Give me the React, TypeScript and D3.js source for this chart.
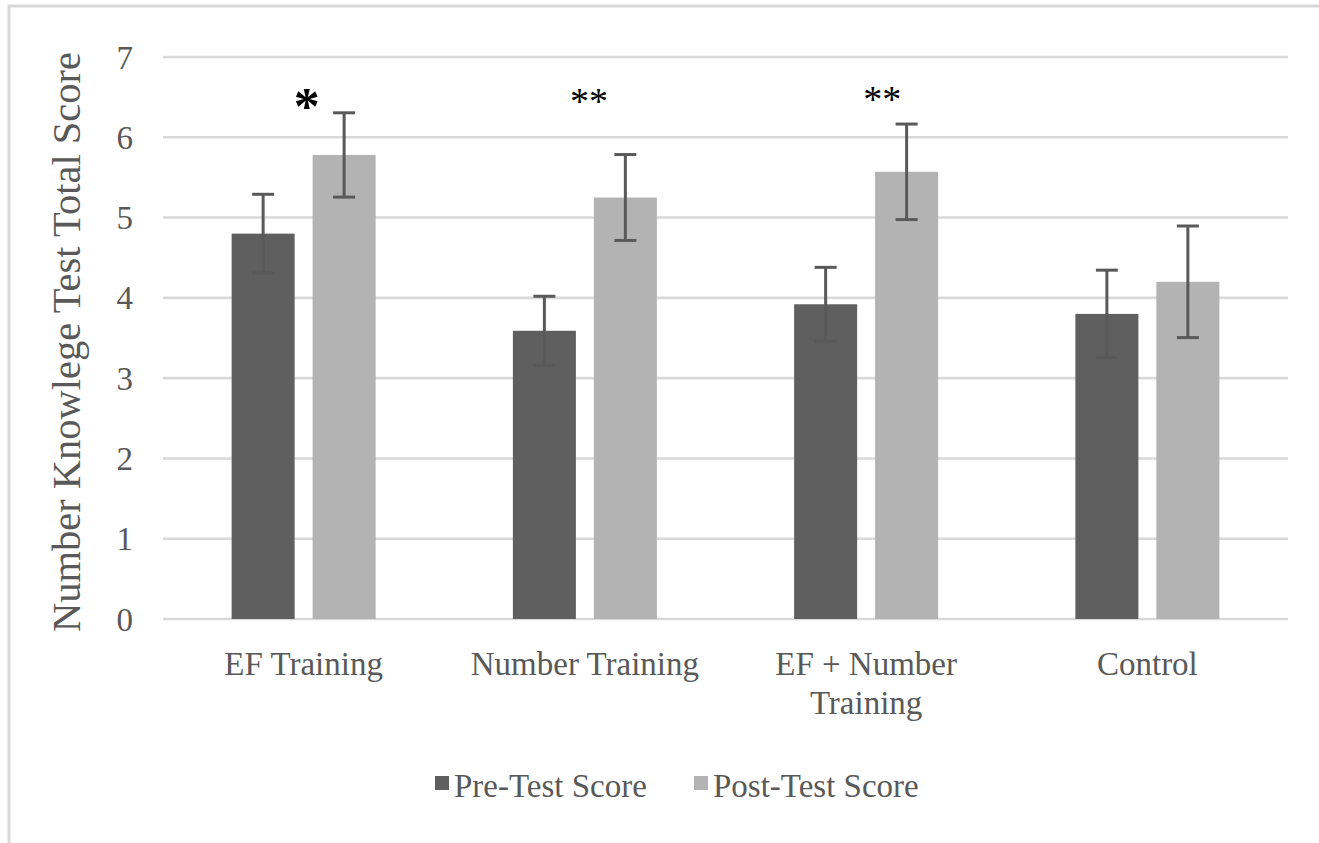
import React from "react";
import * as d3 from "d3";

const categories = ["EF Training", "Number Training", "EF + Number Training", "Control"];
const categoryLines = [["EF Training"], ["Number Training"], ["EF + Number", "Training"], ["Control"]];
const seriesNames = ["Pre-Test Score", "Post-Test Score"];
const preScores = [4.8, 3.59, 3.92, 3.8];
const postScores = [5.78, 5.25, 5.57, 4.2];
const preErrors = [0.49, 0.43, 0.46, 0.545];
const postErrors = [0.525, 0.535, 0.595, 0.695];
const significance = ["*", "**", "**", ""];
const significanceLevel = [6.55, 6.55, 6.58, 0];
const yTicks = [0, 1, 2, 3, 4, 5, 6, 7];
const yTitle = "Number Knowlege Test Total Score";

const W = 1319;
const H = 843;
const FONT = "'Liberation Serif', 'Times New Roman', serif";
const TEXT = "#595959";
const GRID = "#d9d9d9";
const COLORS = ["#5f5f5f", "#b3b3b3"];
const ERR = "#595959";
const sigDx = [3, 4, 16, 0];

export default function App() {
  const x = d3.scaleBand<string>().domain(categories).range([163, 1288]).paddingInner(0).paddingOuter(0);
  const y = d3.scaleLinear().domain([0, 7]).range([619, 57]);
  const groupW = 144;
  const inner = d3.scaleBand<string>().domain(seriesNames).range([0, groupW]).paddingInner(0.222);
  const values = [preScores, postScores];
  const errors = [preErrors, postErrors];

  return (
    <svg width={W} height={H} style={{ position: "absolute", left: 0, top: 0, background: "#fff" }} fontFamily={FONT}>
      <rect x={0} y={0} width={W} height={H} fill="#fff" />
      <rect x={9} y={6} width={1500} height={1000} fill="none" stroke={GRID} strokeWidth={3} />
      {yTicks.map((t) => (
        <g key={t}>
          <line x1={163} x2={1288} y1={y(t)} y2={y(t)} stroke={GRID} strokeWidth={2.6} />
          <text x={133} y={y(t)} dy="0.35em" textAnchor="end" fontSize={33} fill={TEXT}>
            {t}
          </text>
        </g>
      ))}
      <text
        transform={`translate(80,${(y(0) + y(7)) / 2 + 4}) rotate(-90)`}
        textAnchor="middle"
        fontSize={40.5}
        fill={TEXT}
      >
        {yTitle}
      </text>
      {categories.map((c, i) => {
        const gx = (x(c) as number) + (x.bandwidth() - groupW) / 2;
        return (
          <g key={c}>
            {seriesNames.map((s, j) => {
              const bx = gx + (inner(s) as number);
              const bw = inner.bandwidth();
              const v = values[j][i];
              const e = errors[j][i];
              const cx = bx + bw / 2;
              return (
                <g key={s}>
                  <rect x={bx} y={y(v)} width={bw} height={y(0) - y(v)} fill={COLORS[j]} />
                  <line x1={cx} x2={cx} y1={y(v + e)} y2={y(v - e)} stroke={ERR} strokeWidth={3} />
                  <line x1={cx - 11} x2={cx + 11} y1={y(v + e)} y2={y(v + e)} stroke={ERR} strokeWidth={3} />
                  <line x1={cx - 11} x2={cx + 11} y1={y(v - e)} y2={y(v - e)} stroke={ERR} strokeWidth={3} />
                </g>
              );
            })}
            {categoryLines[i].map((ln, k) => (
              <text
                key={k}
                x={(x(c) as number) + x.bandwidth() / 2}
                y={675 + k * 39}
                textAnchor="middle"
                fontSize={33}
                fill={TEXT}
              >
                {ln}
              </text>
            ))}
            {significance[i] && (
              <text
                x={(x(c) as number) + x.bandwidth() / 2 + sigDx[i]}
                y={y(significanceLevel[i])}
                dy={significance[i].length === 1 ? "0.6em" : "0.55em"}
                textAnchor="middle"
                fontSize={significance[i].length === 1 ? 52 : 38}
                fontWeight={significance[i].length === 1 ? "bold" : "normal"}
                fill="#000"
              >
                {significance[i]}
              </text>
            )}
          </g>
        );
      })}
      {seriesNames.map((s, j) => {
        const lx = [435, 694][j];
        return (
          <g key={s}>
            <rect x={lx} y={776} width={14} height={14} fill={COLORS[j]} />
            <text x={lx + 19} y={797} fontSize={33} fill={TEXT}>
              {s}
            </text>
          </g>
        );
      })}
    </svg>
  );
}
